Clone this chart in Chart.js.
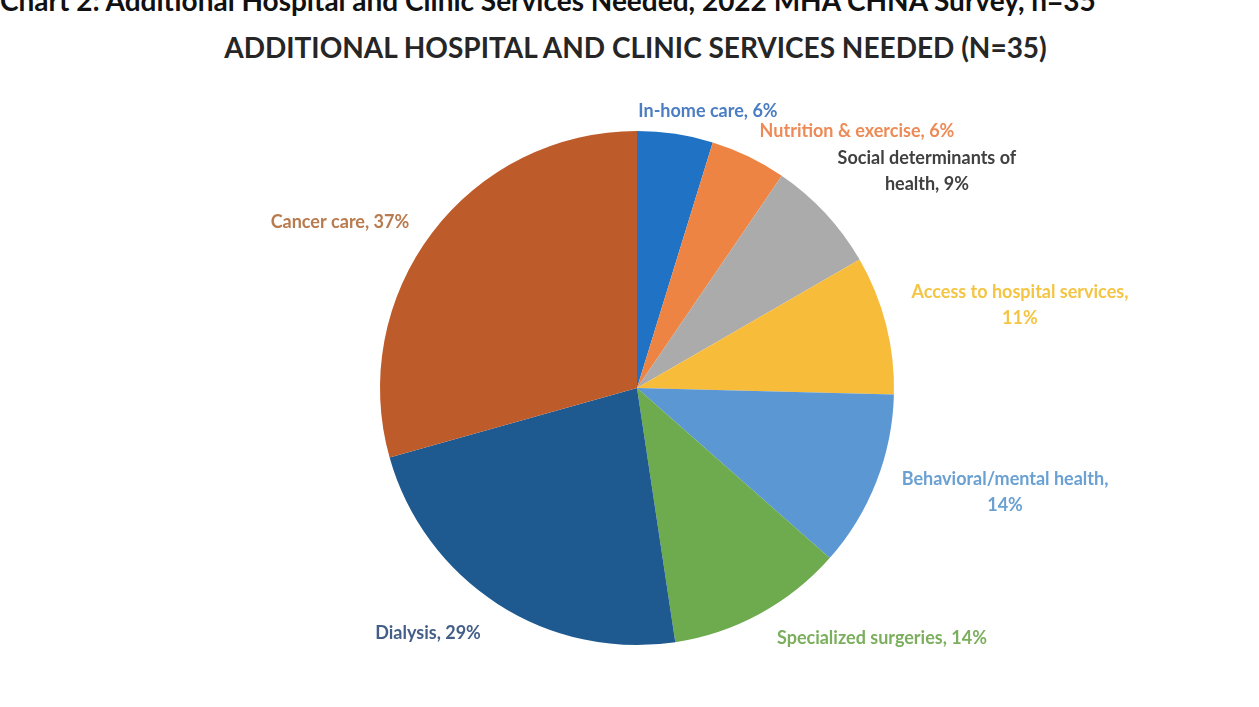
<!DOCTYPE html>
<html lang="en">
<head>
<meta charset="utf-8">
<script src="https://cdn.jsdelivr.net/npm/chart.js@4"></script>
<style>
    body {
        margin: 0;
        background: #fff;
        width: 1259px;
        height: 707px;
        overflow: hidden;
        position: relative;
        font-family: Lato, "Open Sans", sans-serif;
    }

    .captionCut {
        position: absolute;
        left: 0;
        top: -17px;
        font-weight: bold;
        font-size: 28px;
        color: #111;
        white-space: nowrap;
    }

    .chartTitle {
        position: absolute;
        left: 0;
        width: 1271px;
        top: 30px;
        text-align: center;
        font-weight: bold;
        font-size: 28px;
        color: #262626;
        white-space: nowrap;
    }

    #wrap {
        position: absolute;
        left: 0;
        top: 0;
        width: 1259px;
        height: 707px;
    }
</style>
</head>
<body>

<div class="captionCut">Chart 2: Additional Hospital and Clinic Services Needed, 2022 MHA CHNA Survey, n=35</div>
<div class="chartTitle">ADDITIONAL HOSPITAL AND CLINIC SERVICES NEEDED (N=35)</div>

<div id="wrap">
    <canvas id="servicesChart"></canvas>
</div>

<script>

    // data (share of respondents, %)
    var categories = [
        ['In-home care, 6%'],
        ['Nutrition & exercise, 6%'],
        ['Social determinants of', 'health, 9%'],
        ['Access to hospital services,', '11%'],
        ['Behavioral/mental health,', '14%'],
        ['Specialized surgeries, 14%'],
        ['Dialysis, 29%'],
        ['Cancer care, 37%']
    ];
    var values = [6, 6, 9, 11, 14, 14, 29, 37];

    var sliceColors = ['#1f72c4', '#ee8444', '#ababab', '#f8bc3b', '#5b97d3', '#6eaa4e', '#1e5a90', '#bd5b2b'];
    var labelColors = ['#4a7dc2', '#ee8a55', '#404040', '#f4c443', '#6aa0d2', '#7baf5d', '#435f88', '#b97a4d'];

    // label centre, in radii from the pie centre
    var labelPos = [
        [0.276, -1.078],
        [0.856, -1.0],
        [1.128, -0.844],
        [1.490, -0.323],
        [1.432, 0.405],
        [0.953, 0.973],
        [-0.813, 0.953],
        [-1.156, -0.646]
    ];

    var outsideLabels = {
        id: 'outsideLabels',
        afterDatasetsDraw: function (chart) {
            var ctx = chart.ctx;
            var meta = chart.getDatasetMeta(0);
            ctx.save();
            ctx.font = 'bold 18px Lato, "Open Sans", sans-serif';
            ctx.textAlign = 'center';
            ctx.textBaseline = 'middle';
            meta.data.forEach(function (arc, i) {
                var r = arc.outerRadius;
                var x = arc.x + labelPos[i][0] * r;
                var y = arc.y + labelPos[i][1] * r;
                var lines = categories[i];
                var lh = 26;
                var y0 = y - (lines.length - 1) * lh / 2;
                ctx.fillStyle = labelColors[i];
                lines.forEach(function (t, j) {
                    ctx.fillText(t, x, y0 + j * lh);
                });
            });
            ctx.restore();
        }
    };

    var ctx = document.getElementById('servicesChart').getContext('2d');
    var myChart = new Chart(ctx, {
        type: 'pie',
        data: {
            labels: categories.map(function (l) { return l.join(' '); }),
            datasets: [{
                data: values,
                backgroundColor: sliceColors,
                borderWidth: 0
            }]
        },
        options: {
            responsive: true,
            maintainAspectRatio: false,
            animation: false,
            layout: {
                padding: { top: 131, bottom: 62, left: 15, right: 0 }
            },
            plugins: {
                legend: { display: false },
                title: { display: false },
                tooltip: { enabled: false }
            }
        },
        plugins: [outsideLabels]
    });

</script>
</body>
</html>
